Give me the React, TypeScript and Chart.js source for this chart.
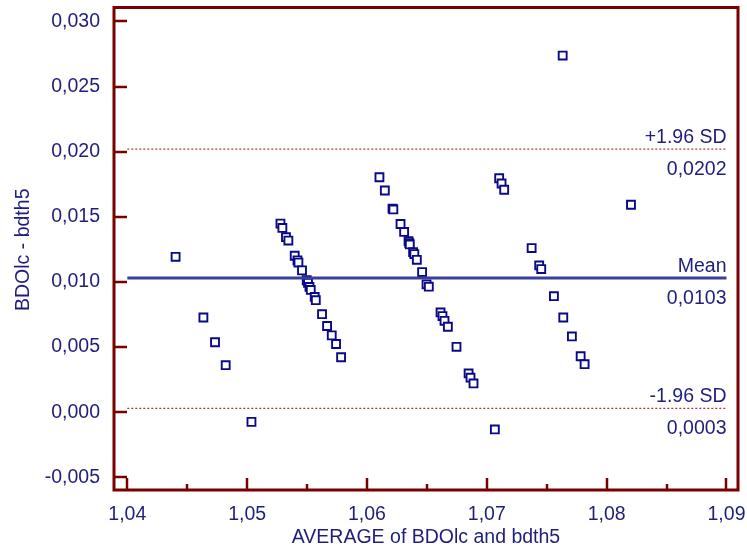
import React, { useEffect, useRef } from "react";
import { Chart, registerables } from "chart.js";

Chart.register(...registerables);

// ---- data ----
const AVG_VALUES = [
  1.04403, 1.04635, 1.04732, 1.04821, 1.05036,
  1.05278, 1.05294, 1.05324, 1.05344, 1.05397, 1.0542, 1.05428, 1.05458, 1.05497, 1.05508,
  1.0552, 1.05531, 1.05564, 1.05573, 1.05625, 1.05667, 1.05706, 1.05742, 1.05784,
  1.06104, 1.06149, 1.06213, 1.0622, 1.0628, 1.0631, 1.06347, 1.06353, 1.06357, 1.06385,
  1.06395, 1.06416, 1.0646, 1.06497, 1.06516, 1.06614, 1.0663, 1.06647, 1.06675, 1.06747,
  1.06848, 1.06864, 1.06889, 1.07067,
  1.07103, 1.07123, 1.07145, 1.07374, 1.07437, 1.07454, 1.0756, 1.07633, 1.07638, 1.0771,
  1.07783, 1.07816, 1.08203,
];
const DIFF_VALUES = [
  0.01193, 0.00727, 0.00537, 0.00361, -0.00074,
  0.01448, 0.01415, 0.01344, 0.01318, 0.01201, 0.01166, 0.01149, 0.01089, 0.01013, 0.00994,
  0.00962, 0.00939, 0.00885, 0.0086, 0.00753, 0.00662, 0.0059, 0.00524, 0.00422,
  0.01804, 0.01702, 0.01563, 0.01557, 0.01445, 0.01384, 0.01313, 0.01298, 0.01288, 0.01229,
  0.01214, 0.0117, 0.01076, 0.00982, 0.00964, 0.00766, 0.00738, 0.00702, 0.00656, 0.00502,
  0.00298, 0.00265, 0.00221, -0.00132,
  0.01796, 0.01756, 0.01708, 0.0126, 0.01127, 0.01099, 0.00891, 0.02738, 0.00727, 0.00582,
  0.0043, 0.00369, 0.01593,
];
const MEAN = 0.0103;
const UPPER = 0.0202;
const LOWER = 0.0003;
const X_TICKS = [1.04, 1.05, 1.06, 1.07, 1.08, 1.09];
const X_MINOR = [1.045, 1.055, 1.065, 1.075, 1.085];
const Y_TICKS = [-0.005, 0, 0.005, 0.01, 0.015, 0.02, 0.025, 0.03];
const X_TITLE = "AVERAGE of BDOlc and bdth5";
const Y_TITLE = "BDOlc - bdth5";

const TEXT = "#1e1e7c";
const FRAME = "#7a0000";
const FONT = "'Liberation Sans', Arial, sans-serif";

const fmt = (v: string) => v.replace(".", ",");

const noPad = (s: any) => {
  s.paddingLeft = 0;
  s.paddingRight = 0;
  s.paddingTop = 0;
  s.paddingBottom = 0;
};

const framePlugin = {
  id: "frame",
  afterDatasetsDraw(chart: any) {
    const ctx = chart.ctx;
    const xs = chart.scales.x;
    const ys = chart.scales.y;
    ctx.save();
    ctx.fillStyle = TEXT;
    ctx.font = `19.5px ${FONT}`;
    ctx.textAlign = "right";
    ctx.textBaseline = "alphabetic";
    const rx = xs.getPixelForValue(1.09);
    const lbl = (v: number, top: string, bottom: string) => {
      const p = ys.getPixelForValue(v);
      ctx.fillText(top, rx, p - 6);
      ctx.fillText(bottom, rx, p + 26);
    };
    lbl(UPPER, "+1.96 SD", fmt(UPPER.toFixed(4)));
    lbl(MEAN, "Mean", fmt(MEAN.toFixed(4)));
    lbl(LOWER, "-1.96 SD", fmt(LOWER.toFixed(4)));
    ctx.restore();
  },
  afterDraw(chart: any) {
    const ctx = chart.ctx;
    const xs = chart.scales.x;
    const ys = chart.scales.y;
    const a = chart.chartArea;
    ctx.save();
    ctx.strokeStyle = FRAME;
    ctx.lineWidth = 2.5;
    ctx.beginPath();
    for (const v of Y_TICKS) {
      const p = Math.round(ys.getPixelForValue(v));
      ctx.moveTo(a.left, p);
      ctx.lineTo(a.left + 13, p);
    }
    for (const v of X_TICKS) {
      const p = Math.round(xs.getPixelForValue(v));
      ctx.moveTo(p, a.bottom);
      ctx.lineTo(p, a.bottom - 12);
    }
    for (const v of X_MINOR) {
      const p = Math.round(xs.getPixelForValue(v));
      ctx.moveTo(p, a.bottom);
      ctx.lineTo(p, a.bottom - 6);
    }
    ctx.stroke();
    ctx.lineWidth = 3;
    ctx.strokeRect(a.left, a.top, a.right - a.left, a.bottom - a.top);
    ctx.fillStyle = TEXT;
    ctx.font = `19.5px ${FONT}`;
    ctx.textAlign = "center";
    ctx.textBaseline = "alphabetic";
    ctx.fillText(X_TITLE, (a.left + a.right) / 2, 543);
    ctx.translate(24, (a.top + a.bottom) / 2 + 1);
    ctx.rotate(-Math.PI / 2);
    ctx.textBaseline = "middle";
    ctx.fillText(Y_TITLE, 0, 0);
    ctx.restore();
  },
};

export default function App() {
  const ref = useRef<HTMLCanvasElement | null>(null);
  useEffect(() => {
    if (!ref.current) return;
    const pts = AVG_VALUES.map((x, i) => ({ x, y: DIFF_VALUES[i] }));
    const hline = (v: number) => [
      { x: X_TICKS[0], y: v },
      { x: X_TICKS[X_TICKS.length - 1], y: v },
    ];
    const chart = new Chart(ref.current, {
      type: "scatter",
      data: {
        datasets: [
          {
            type: "line",
            data: hline(UPPER),
            borderColor: "#b03a3a",
            borderWidth: 1.2,
            borderDash: [2, 2],
            pointRadius: 0,
          },
          {
            type: "line",
            data: hline(LOWER),
            borderColor: "#b03a3a",
            borderWidth: 1.2,
            borderDash: [2, 2],
            pointRadius: 0,
          },
          {
            type: "line",
            data: hline(MEAN),
            borderColor: "#3a3e9e",
            borderWidth: 3,
            pointRadius: 0,
          },
          {
            data: pts,
            pointStyle: "rect",
            pointRadius: 5.6,
            borderWidth: 1.9,
            borderColor: "#0a0a88",
            backgroundColor: "#ffffff",
          },
        ] as any,
      },
      options: {
        responsive: false,
        animation: false,
        events: [],
        layout: { padding: { top: 5, right: 9, left: 0, bottom: 0 } },
        plugins: { legend: { display: false }, tooltip: { enabled: false } },
        scales: {
          x: {
            type: "linear",
            min: 1.03889,
            max: 1.09096,
            grid: { display: false },
            border: { display: false },
            afterFit: (s: any) => {
              s.height = 66;
              noPad(s);
            },
            afterBuildTicks: (s: any) => {
              s.ticks = X_TICKS.map((value) => ({ value }));
            },
            ticks: {
              padding: 5,
              color: TEXT,
              font: { family: FONT, size: 19.5 },
              maxRotation: 0,
              autoSkip: false,
              callback: (v: any) => fmt(Number(v).toFixed(2)),
            },
          },
          y: {
            type: "linear",
            min: -0.00597,
            max: 0.03107,
            grid: { display: false },
            border: { display: false },
            afterFit: (s: any) => {
              s.width = 114;
              noPad(s);
            },
            afterBuildTicks: (s: any) => {
              s.ticks = Y_TICKS.map((value) => ({ value }));
            },
            ticks: {
              padding: 6,
              color: TEXT,
              font: { family: FONT, size: 19.5 },
              autoSkip: false,
              callback: (v: any) => fmt(Number(v).toFixed(3)),
            },
          },
        },
      },
      plugins: [framePlugin],
    } as any);
    return () => chart.destroy();
  }, []);
  return (
    <div style={{ position: "absolute", left: 0, top: 0, width: 747, height: 556 }}>
      <canvas ref={ref} width={747} height={556} style={{ display: "block" }} />
    </div>
  );
}
